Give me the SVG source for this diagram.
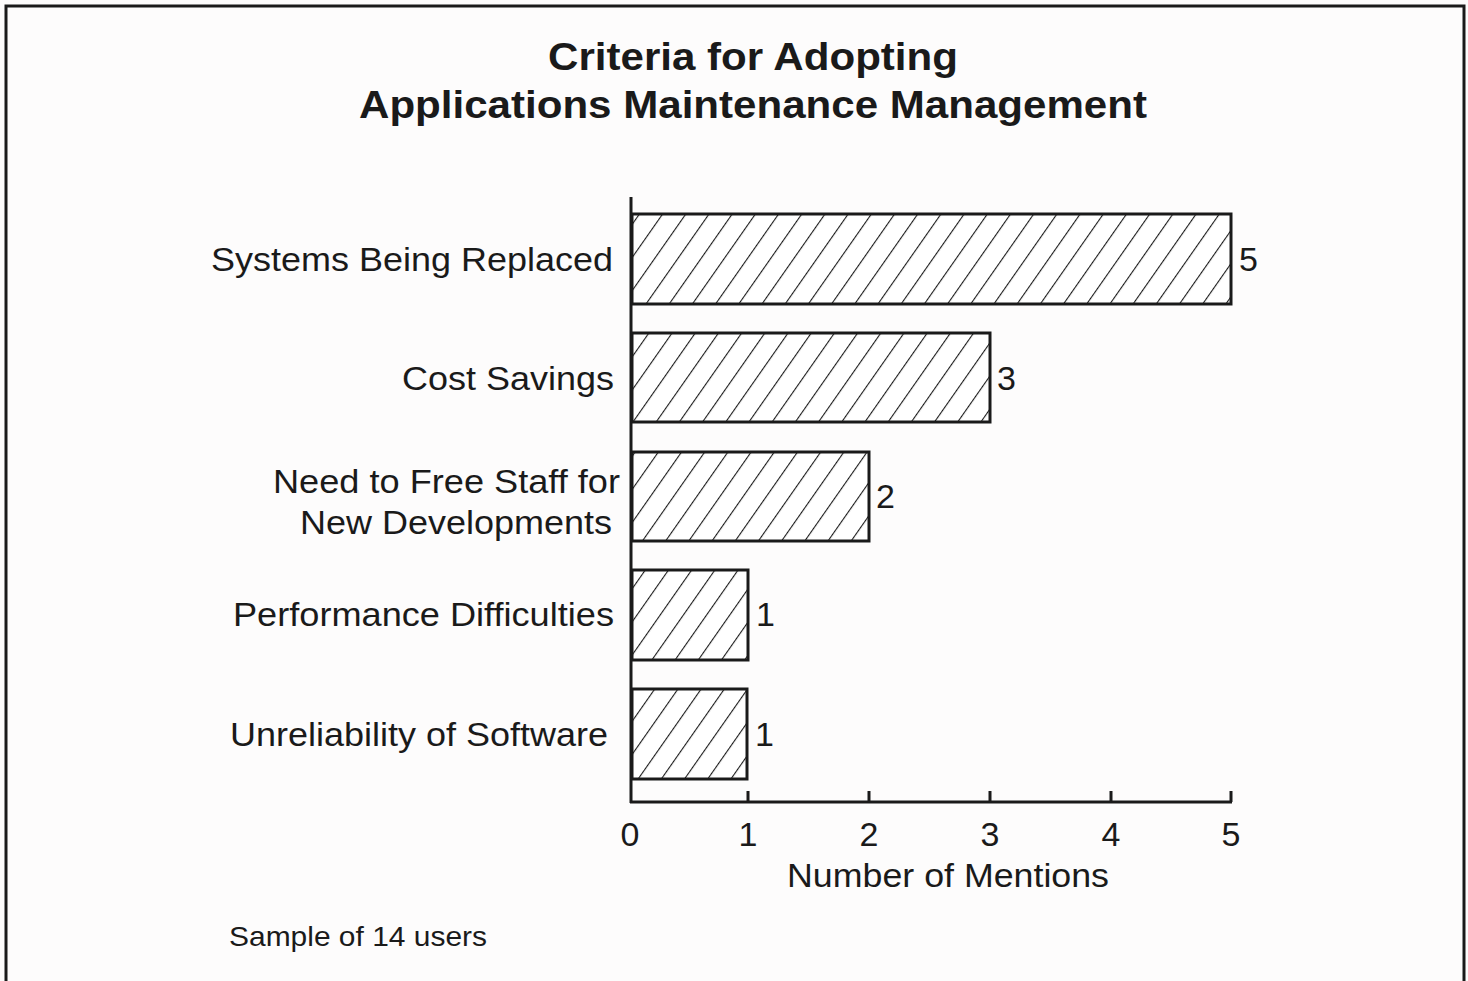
<svg xmlns="http://www.w3.org/2000/svg" width="1468" height="981" viewBox="0 0 1468 981">
<style>
.t{font-family:"Liberation Sans",Arial,sans-serif;fill:#1a1a1a}
.title{font-size:38px;font-weight:bold;text-anchor:middle}
.lbl{font-size:33px;text-anchor:end}
.val{font-size:34px}
.tick{font-size:34px;text-anchor:middle}
.bar{fill:url(#hatch);stroke:#1a1a1a;stroke-width:3}
.ax{stroke:#1a1a1a;stroke-width:3;fill:none}
</style>
<defs>
<pattern id="hatch" patternUnits="userSpaceOnUse" width="19" height="19" patternTransform="rotate(-55)">
<rect width="19" height="19" fill="#fff"/>
<line x1="0" y1="0" x2="19" y2="0" stroke="#1a1a1a" stroke-width="2.2"/>
</pattern>
</defs>
<rect width="1468" height="981" fill="#fdfcfc"/>
<path d="M6,981 V6 H1464 V981" class="ax" stroke-width="2.5"/>
<text class="t title" x="753" y="70" textLength="410" lengthAdjust="spacingAndGlyphs">Criteria for Adopting</text>
<text class="t title" x="753" y="118" textLength="788" lengthAdjust="spacingAndGlyphs">Applications Maintenance Management</text>
<g id="bar-systems">
<rect class="bar" x="632" y="214" width="599" height="90"/>
<text class="t lbl" x="613" y="271" textLength="402" lengthAdjust="spacingAndGlyphs">Systems Being Replaced</text>
<text class="t val" x="1239" y="271">5</text>
</g>
<g id="bar-cost">
<rect class="bar" x="632" y="333" width="358" height="89"/>
<text class="t lbl" x="614" y="390" textLength="212" lengthAdjust="spacingAndGlyphs">Cost Savings</text>
<text class="t val" x="997" y="390">3</text>
</g>
<g id="bar-staff">
<rect class="bar" x="632" y="452" width="237" height="89"/>
<text class="t lbl" x="620" y="493" textLength="347" lengthAdjust="spacingAndGlyphs">Need to Free Staff for</text>
<text class="t lbl" x="612" y="534" textLength="312" lengthAdjust="spacingAndGlyphs">New Developments</text>
<text class="t val" x="876" y="508">2</text>
</g>
<g id="bar-perf">
<rect class="bar" x="632" y="570" width="116" height="90"/>
<text class="t lbl" x="614" y="626" textLength="381" lengthAdjust="spacingAndGlyphs">Performance Difficulties</text>
<text class="t val" x="756" y="626">1</text>
</g>
<g id="bar-unrel">
<rect class="bar" x="632" y="689" width="115" height="90"/>
<text class="t lbl" x="608" y="746" textLength="378" lengthAdjust="spacingAndGlyphs">Unreliability of Software</text>
<text class="t val" x="755" y="746">1</text>
</g>
<g id="axes">
<path class="ax" d="M631,197 V803 M630,802 H1232 M748,802 V791 M869,802 V791 M990,802 V791 M1111,802 V791 M1231,802 V791"/>
<text class="t tick" x="630" y="846">0</text>
<text class="t tick" x="748" y="846">1</text>
<text class="t tick" x="869" y="846">2</text>
<text class="t tick" x="990" y="846">3</text>
<text class="t tick" x="1111" y="846">4</text>
<text class="t tick" x="1231" y="846">5</text>
<text class="t tick" x="948" y="887" font-size="33" textLength="322" lengthAdjust="spacingAndGlyphs">Number of Mentions</text>
</g>
<text class="t" x="229" y="946" font-size="28" textLength="258" lengthAdjust="spacingAndGlyphs">Sample of 14 users</text>
</svg>
